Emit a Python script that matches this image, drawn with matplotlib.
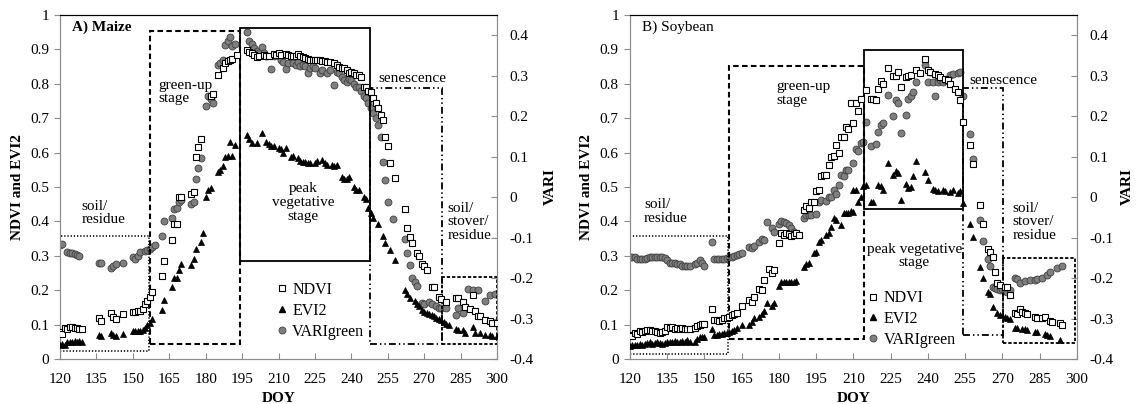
import matplotlib
matplotlib.use('Agg')
import matplotlib.pyplot as plt
from matplotlib.patches import Rectangle
from matplotlib.lines import Line2D

plt.rcParams['font.family'] = ['Liberation Serif', 'DejaVu Serif']
plt.rcParams['font.size'] = 11
plt.rcParams['lines.scale_dashes'] = False

# ---------------- Maize (panel A) ----------------
maize_ndvi_doy = [120, 121, 122, 123, 124, 125, 126, 127, 128, 129, 136, 137, 141, 142, 143, 146, 150, 151,
                  152, 153, 154, 155, 156, 157, 158, 162, 163, 166, 167, 168, 169, 170, 174, 175, 176, 177,
                  178, 182, 183, 185, 187, 188, 189, 190, 191, 193, 197, 198, 199, 200, 201, 202, 204, 205,
                  206, 208, 209, 210, 211, 213, 214, 215, 216, 217, 218, 219, 220, 221, 222, 223, 224, 225,
                  226, 227, 228, 229, 230, 231, 233, 234, 235, 236, 237, 238, 239, 240, 241, 242, 243, 244,
                  245, 246, 247, 248, 249, 250, 251, 252, 253, 254, 255, 256, 258, 262, 263, 264, 265, 267,
                  268, 269, 270, 271, 273, 274, 276, 277, 279, 283, 284, 286, 287, 289, 290, 291, 292, 293,
                  295, 297, 298, 300]
maize_ndvi = [0.078, 0.072, 0.09, 0.088, 0.094, 0.092, 0.09, 0.09, 0.088, 0.087, 0.12, 0.11, 0.135, 0.122,
              0.115, 0.13, 0.136, 0.138, 0.14, 0.14, 0.145, 0.16, 0.17, 0.18, 0.195, 0.24, 0.285, 0.346,
              0.392, 0.393, 0.47, 0.47, 0.48, 0.486, 0.587, 0.615, 0.64, 0.765, 0.77, 0.826, 0.845, 0.86,
              0.867, 0.87, 0.873, 0.884, 0.898, 0.893, 0.89, 0.885, 0.879, 0.882, 0.885, 0.882, 0.88, 0.886,
              0.884, 0.889, 0.885, 0.886, 0.884, 0.882, 0.88, 0.88, 0.886, 0.88, 0.878, 0.874, 0.872, 0.87,
              0.87, 0.868, 0.868, 0.868, 0.866, 0.865, 0.864, 0.864, 0.86, 0.856, 0.85, 0.846, 0.846, 0.84,
              0.83, 0.835, 0.83, 0.827, 0.825, 0.82, 0.79, 0.79, 0.78, 0.775, 0.76, 0.745, 0.73, 0.71, 0.695,
              0.646, 0.62, 0.569, 0.525, 0.435, 0.38, 0.355, 0.336, 0.309, 0.3, 0.276, 0.27, 0.26, 0.21,
              0.21, 0.18, 0.175, 0.167, 0.178, 0.177, 0.167, 0.15, 0.145, 0.186, 0.14, 0.125, 0.125, 0.113,
              0.11, 0.105, 0.105]

maize_evi2_doy = [120, 121, 122, 123, 124, 125, 126, 127, 128, 129, 136, 137, 141, 142, 143, 146, 150, 151,
                  152, 153, 154, 155, 156, 157, 158, 162, 163, 166, 167, 168, 169, 170, 174, 175, 176, 178,
                  179, 180, 181, 182, 185, 186, 187, 188, 189, 190, 191, 192, 197, 198, 199, 201, 203, 205,
                  206, 207, 208, 210, 211, 212, 213, 215, 216, 218, 219, 220, 221, 222, 223, 225, 226, 228,
                  229, 230, 232, 233, 234, 236, 237, 238, 239, 241, 242, 243, 245, 246, 247, 248, 249, 251,
                  253, 254, 256, 258, 262, 263, 264, 266, 267, 268, 269, 270, 271, 272, 273, 274, 275, 276,
                  277, 278, 279, 280, 283, 284, 286, 287, 290, 291, 293, 295, 297, 298, 300]
maize_evi2 = [0.04, 0.045, 0.04, 0.048, 0.05, 0.05, 0.052, 0.05, 0.052, 0.05, 0.07, 0.068, 0.075, 0.07,
              0.068, 0.072, 0.08, 0.08, 0.08, 0.08, 0.085, 0.09, 0.1, 0.105, 0.115, 0.142, 0.172, 0.208,
              0.234, 0.234, 0.26, 0.275, 0.273, 0.29, 0.319, 0.341, 0.365, 0.472, 0.49, 0.496, 0.545, 0.55,
              0.56, 0.588, 0.59, 0.632, 0.59, 0.622, 0.651, 0.64, 0.628, 0.628, 0.656, 0.63, 0.625, 0.62,
              0.62, 0.612, 0.61, 0.6, 0.612, 0.588, 0.59, 0.585, 0.575, 0.574, 0.572, 0.57, 0.57, 0.57,
              0.575, 0.578, 0.57, 0.565, 0.564, 0.56, 0.563, 0.53, 0.523, 0.523, 0.53, 0.5, 0.49, 0.49,
              0.472, 0.465, 0.438, 0.425, 0.41, 0.392, 0.357, 0.337, 0.318, 0.288, 0.202, 0.19, 0.176,
              0.168, 0.16, 0.155, 0.142, 0.138, 0.135, 0.13, 0.128, 0.125, 0.12, 0.115, 0.112, 0.108, 0.102,
              0.1, 0.086, 0.085, 0.083, 0.077, 0.092, 0.077, 0.075, 0.07, 0.07, 0.068, 0.067]

maize_vari_doy = [120, 121, 123, 124, 125, 126, 127, 128, 136, 137, 141, 142, 143, 146, 150, 151, 152, 153,
                  155, 156, 157, 158, 159, 162, 163, 166, 167, 168, 169, 170, 174, 175, 176, 177, 178, 180,
                  181, 182, 183, 185, 186, 187, 188, 189, 190, 191, 192, 197, 198, 199, 200, 201, 202, 203,
                  204, 205, 207, 208, 210, 211, 212, 213, 214, 216, 217, 218, 219, 220, 221, 222, 223, 224,
                  225, 227, 228, 230, 231, 233, 234, 235, 236, 237, 238, 239, 240, 241, 242, 243, 244, 245,
                  246, 247, 248, 249, 250, 251, 252, 253, 254, 255, 257, 262, 263, 264, 265, 266, 267, 269,
                  270, 272, 273, 275, 276, 277, 279, 283, 284, 286, 288, 290, 292, 295, 297, 299]
maize_vari = [-0.119, -0.115, -0.135, -0.137, -0.139, -0.141, -0.142, -0.145, -0.162, -0.162, -0.176, -0.169,
              -0.165, -0.164, -0.147, -0.154, -0.145, -0.135, -0.132, -0.130, -0.128, -0.124, -0.119, -0.097,
              -0.06, -0.052, -0.029, -0.026, -0.012, -0.007, -0.018, -0.011, 0.044, 0.071, 0.096, 0.225,
              0.249, 0.242, 0.233, 0.327, 0.331, 0.34, 0.376, 0.386, 0.396, 0.374, 0.378, 0.409, 0.385,
              0.379, 0.368, 0.361, 0.357, 0.372, 0.357, 0.348, 0.316, 0.348, 0.348, 0.34, 0.335, 0.317,
              0.331, 0.331, 0.327, 0.335, 0.323, 0.327, 0.323, 0.306, 0.318, 0.323, 0.318, 0.307, 0.314,
              0.306, 0.314, 0.277, 0.31, 0.306, 0.297, 0.289, 0.285, 0.293, 0.289, 0.28, 0.272, 0.272,
              0.263, 0.25, 0.244, 0.233, 0.221, 0.207, 0.195, 0.178, 0.149, 0.087, 0.042, -0.012, -0.055,
              -0.104, -0.139, -0.168, -0.2, -0.209, -0.22, -0.262, -0.264, -0.258, -0.264, -0.268, -0.273,
              -0.273, -0.275, -0.291, -0.275, -0.286, -0.228, -0.23, -0.23, -0.256, -0.242, -0.239]

# stage windows: (DOY start, DOY end, low, high) on the NDVI/EVI2 scale
maize_stages = [(120, 156.5, 0.024, 0.358),
                (157.1, 194.1, 0.045, 0.954),
                (194.1, 247.7, 0.285, 0.961),
                (247.7, 277.2, 0.044, 0.787),
                (277.2, 300, 0.044, 0.239)]

# ---------------- Soybean (panel B) ----------------
soy_ndvi_doy = [120, 121, 122, 123, 124, 125, 126, 127, 128, 129, 130, 131, 132, 133, 134, 135, 136, 137,
                138, 139, 140, 141, 142, 143, 144, 146, 147, 148, 149, 150, 153, 154, 155, 156, 157, 158,
                159, 160, 161, 162, 163, 165, 168, 169, 170, 172, 173, 174, 176, 177, 178, 180, 181, 182,
                183, 184, 185, 186, 187, 188, 190, 191, 192, 193, 194, 195, 196, 197, 198, 199, 200, 201,
                202, 203, 204, 205, 206, 207, 208, 209, 210, 211, 212, 213, 215, 217, 218, 219, 220, 221,
                222, 224, 226, 227, 228, 229, 231, 232, 233, 235, 237, 239, 240, 241, 243, 244, 245, 247,
                248, 249, 251, 252, 253, 254, 257, 258, 261, 262, 264, 265, 266, 267, 268, 269, 271, 272,
                273, 275, 276, 277, 278, 279, 280, 283, 284, 286, 287, 289, 290, 293, 294]
soy_ndvi = [0.07, 0.068, 0.075, 0.074, 0.08, 0.078, 0.082, 0.085, 0.084, 0.08, 0.082, 0.078, 0.075, 0.078,
            0.082, 0.094, 0.09, 0.092, 0.088, 0.09, 0.088, 0.09, 0.088, 0.086, 0.088, 0.091, 0.095, 0.1,
            0.103, 0.102, 0.144, 0.113, 0.112, 0.11, 0.112, 0.118, 0.12, 0.122, 0.128, 0.13, 0.135, 0.154,
            0.172, 0.165, 0.18, 0.203, 0.202, 0.231, 0.263, 0.251, 0.26, 0.338, 0.365, 0.36, 0.365, 0.363,
            0.358, 0.36, 0.365, 0.36, 0.433, 0.445, 0.438, 0.455, 0.457, 0.487, 0.49, 0.532, 0.535, 0.535,
            0.564, 0.588, 0.59, 0.622, 0.6, 0.644, 0.646, 0.675, 0.67, 0.743, 0.685, 0.743, 0.722, 0.755,
            0.783, 0.755, 0.755, 0.753, 0.786, 0.807, 0.8, 0.845, 0.823, 0.824, 0.834, 0.79, 0.82, 0.823,
            0.825, 0.84, 0.83, 0.871, 0.84, 0.835, 0.829, 0.825, 0.82, 0.815, 0.81, 0.8, 0.786, 0.775, 0.753,
            0.69, 0.622, 0.567, 0.448, 0.392, 0.319, 0.31, 0.296, 0.254, 0.22, 0.215, 0.21, 0.208, 0.186,
            0.133, 0.13, 0.145, 0.138, 0.133, 0.13, 0.123, 0.12, 0.12, 0.123, 0.11, 0.108, 0.104, 0.099]

soy_evi2_doy = [120, 121, 122, 123, 124, 125, 126, 127, 128, 129, 130, 131, 132, 133, 134, 135, 136, 137,
                138, 139, 140, 141, 142, 143, 144, 146, 147, 148, 149, 150, 153, 154, 155, 156, 157, 158,
                159, 160, 161, 162, 163, 165, 168, 169, 170, 172, 173, 174, 175, 177, 178, 180, 181, 182,
                183, 184, 185, 186, 187, 190, 191, 192, 194, 195, 196, 197, 199, 200, 201, 202, 203, 205,
                206, 207, 208, 209, 210, 210, 211, 212, 213, 214, 215, 217, 218, 220, 221, 222, 224, 226,
                227, 228, 229, 231, 232, 233, 234, 235, 239, 240, 242, 243, 244, 246, 247, 249, 250, 252,
                253, 254, 257, 258, 261, 262, 264, 265, 266, 268, 269, 271, 272, 273, 275, 276, 278, 279,
                280, 283, 284, 287, 288, 289, 293]
soy_evi2 = [0.038, 0.04, 0.042, 0.04, 0.044, 0.042, 0.045, 0.046, 0.048, 0.045, 0.047, 0.048, 0.046, 0.044,
            0.046, 0.048, 0.05, 0.048, 0.052, 0.05, 0.05, 0.052, 0.05, 0.054, 0.05, 0.05, 0.058, 0.063,
            0.065, 0.065, 0.086, 0.07, 0.07, 0.072, 0.072, 0.075, 0.075, 0.078, 0.08, 0.084, 0.09, 0.099,
            0.1, 0.107, 0.118, 0.123, 0.13, 0.14, 0.162, 0.155, 0.162, 0.212, 0.225, 0.223, 0.225, 0.225,
            0.224, 0.225, 0.226, 0.268, 0.275, 0.28, 0.309, 0.31, 0.341, 0.345, 0.36, 0.365, 0.385, 0.409,
            0.405, 0.39, 0.423, 0.425, 0.425, 0.431, 0.428, 0.491, 0.49, 0.457, 0.472, 0.503, 0.506, 0.455,
            0.455, 0.505, 0.503, 0.49, 0.569, 0.536, 0.546, 0.54, 0.462, 0.51, 0.497, 0.5, 0.531, 0.576,
            0.545, 0.52, 0.493, 0.49, 0.488, 0.49, 0.487, 0.485, 0.49, 0.483, 0.487, 0.453, 0.392, 0.356,
            0.268, 0.234, 0.196, 0.19, 0.152, 0.133, 0.128, 0.123, 0.12, 0.115, 0.089, 0.09, 0.088, 0.086,
            0.085, 0.079, 0.078, 0.074, 0.07, 0.066, 0.055]

soy_vari_doy = [120, 121, 122, 123, 124, 125, 126, 127, 128, 129, 130, 131, 132, 133, 134, 135, 136, 137,
                138, 139, 140, 141, 142, 143, 144, 146, 147, 148, 149, 150, 153, 154, 155, 156, 157, 158,
                159, 160, 161, 162, 163, 164, 165, 168, 169, 170, 172, 173, 174, 175, 177, 178, 180, 181,
                182, 183, 184, 185, 186, 190, 191, 192, 193, 195, 196, 197, 199, 200, 201, 202, 203, 204,
                205, 206, 207, 208, 210, 211, 212, 213, 214, 215, 217, 219, 220, 221, 222, 224, 226, 227,
                228, 229, 231, 232, 233, 234, 235, 239, 240, 241, 242, 243, 244, 245, 246, 247, 249, 250,
                252, 253, 254, 257, 258, 261, 262, 264, 265, 266, 267, 268, 269, 270, 271, 272, 273, 275,
                276, 277, 279, 281, 283, 284, 286, 288, 289, 292, 294]
soy_vari = [-0.148, -0.149, -0.147, -0.152, -0.153, -0.154, -0.154, -0.151, -0.149, -0.148, -0.148, -0.148,
            -0.148, -0.149, -0.150, -0.155, -0.164, -0.162, -0.164, -0.166, -0.166, -0.171, -0.169, -0.169,
            -0.169, -0.166, -0.162, -0.155, -0.164, -0.169, -0.110, -0.152, -0.154, -0.154, -0.154, -0.154,
            -0.151, -0.148, -0.148, -0.145, -0.143, -0.141, -0.138, -0.123, -0.126, -0.120, -0.110, -0.104,
            -0.107, -0.061, -0.077, -0.086, -0.067, -0.06, -0.062, -0.064, -0.069, -0.077, -0.086, -0.052,
            -0.043, -0.045, -0.043, -0.041, -0.013, -0.007, -0.009, 0.0, 0.0, 0.017, 0.008, 0.03, 0.055,
            0.051, 0.068, 0.068, 0.084, 0.12, 0.113, 0.133, 0.136, 0.185, 0.126, 0.13, 0.161, 0.178, 0.182,
            0.252, 0.2, 0.24, 0.232, 0.159, 0.203, 0.242, 0.25, 0.26, 0.285, 0.327, 0.285, 0.31, 0.285,
            0.25, 0.285, 0.289, 0.285, 0.289, 0.302, 0.304, 0.306, 0.31, 0.25, 0.155, 0.093, -0.057, -0.108,
            -0.152, -0.171, -0.223, -0.224, -0.227, -0.23, -0.226, -0.233, -0.234, -0.23, -0.201, -0.202,
            -0.211, -0.207, -0.205, -0.205, -0.203, -0.199, -0.193, -0.184, -0.176, -0.171]

soy_stages = [(120, 159.5, 0.0145, 0.358),
              (159.8, 214.4, 0.057, 0.853),
              (214.4, 254.3, 0.435, 0.898),
              (254.3, 270.3, 0.07, 0.787),
              (270.3, 299.4, 0.047, 0.294)]

x_ticks = list(range(120, 301, 15))
left_ticks = [0, 0.1, 0.2, 0.3, 0.4, 0.5, 0.6, 0.7, 0.8, 0.9, 1]
right_ticks = [-0.4, -0.3, -0.2, -0.1, 0, 0.1, 0.2, 0.3, 0.4]

# line style of each stage box: soil, green-up, peak, senescence, soil/stover
box_styles = [
    dict(linestyle=(0, (0.9, 1.4)), linewidth=1.2),
    dict(linestyle=(0, (4.0, 2.4)), linewidth=1.5),
    dict(linestyle='-', linewidth=1.3),
    dict(linestyle=(0, (5.0, 2.2, 1.0, 2.2, 1.0, 2.2)), linewidth=1.3),
    dict(linestyle=(0, (2.4, 1.4)), linewidth=1.3),
]

GRAY = '#8c8c8c'


def tick_label(v):
    if v == 0:
        return '0'
    if v == 1:
        return '1'
    return f'{v:.1f}'


def draw_panel(ax, title, bold, ndvi_doy, ndvi, evi2_doy, evi2, vari_doy, vari, stages, notes,
               legend_anchor, vari_x):
    ax2 = ax.twinx()
    ax.set_zorder(ax2.get_zorder() + 1)
    ax.patch.set_visible(False)

    for (x0, x1, y0, y1), st in zip(stages, box_styles):
        ax.add_patch(Rectangle((x0, y0), x1 - x0, y1 - y0, fill=False, edgecolor='black', zorder=1, **st))

    ax.plot(ndvi_doy, ndvi, ls='none', marker='s', ms=4.2, mfc='white', mec='black', mew=0.8, zorder=3)
    ax.plot(evi2_doy, evi2, ls='none', marker='^', ms=4.8, mfc='black', mec='black', mew=0.5, zorder=3)
    ax2.plot(vari_doy, vari, ls='none', marker='o', ms=5.0, mfc='#7f7f7f', mec='#404040', mew=0.6, zorder=3)

    ax.set_xlim(120, 300)
    ax.set_ylim(0, 1)
    ax2.set_ylim(-0.4, 0.45)
    ax.set_xticks(x_ticks)
    ax.set_yticks(left_ticks)
    ax.set_yticklabels([tick_label(v) for v in left_ticks])
    ax2.set_yticks(right_ticks)
    ax2.set_yticklabels([tick_label(v) for v in right_ticks])

    for a in (ax, ax2):
        for side in ('left', 'right', 'bottom'):
            a.spines[side].set_color(GRAY)
        a.spines['top'].set_color('black')
    ax.tick_params(axis='x', direction='in', length=4, color=GRAY, pad=10, labelsize=11)
    ax.tick_params(axis='y', direction='out', length=4, color=GRAY, pad=4, labelsize=11)
    ax2.tick_params(axis='y', direction='in', length=4, color=GRAY, pad=9, labelsize=11)

    ax.set_xlabel('DOY', fontweight='bold')
    ax.xaxis.set_label_coords(0.5, -0.095)
    ax.set_ylabel('NDVI and EVI2', fontweight='bold')
    ax.yaxis.set_label_coords(-0.082, 0.5)
    ax2.set_ylabel('VARI', fontweight='bold')
    ax2.yaxis.set_label_coords(vari_x, 0.5)

    ax.text(0.028, 0.963, title, transform=ax.transAxes, ha='left', va='center',
            fontweight='bold' if bold else 'normal')
    for x, y, s, ha, ls in notes:
        ax.text(x, y, s, ha=ha, va='center', multialignment=ha if ha != 'center' else 'center',
                linespacing=ls, zorder=4)

    handles = [
        Line2D([], [], ls='none', marker='s', ms=4.2, mfc='white', mec='black', mew=0.8),
        Line2D([], [], ls='none', marker='^', ms=4.8, mfc='black', mec='black'),
        Line2D([], [], ls='none', marker='o', ms=5.0, mfc='#7f7f7f', mec='#404040', mew=0.6),
    ]
    ax.legend(handles, ['NDVI', 'EVI2', 'VARIgreen'], loc='upper left', bbox_to_anchor=legend_anchor,
              frameon=False, borderpad=0, borderaxespad=0, handlelength=0.8, handletextpad=0.25,
              labelspacing=0.3, fontsize=11.5)


fig = plt.figure(figsize=(11.39, 4.04), dpi=100)
ax_a = fig.add_axes([0.0527, 0.1114, 0.3837, 0.8515])
ax_b = fig.add_axes([0.5531, 0.1114, 0.3924, 0.8515])

maize_notes = [(160.4, 0.776, 'green-up\nstage', 'left', 1.05),
               (220.1, 0.456, 'peak\nvegetative\nstage', 'center', 1.1),
               (265.1, 0.814, 'senescence', 'center', 1.0),
               (128.9, 0.424, 'soil/\nresidue', 'left', 1.05),
               (279.5, 0.399, 'soil/\nstover/\nresidue', 'left', 1.05)]
soy_notes = [(178.9, 0.772, 'green-up\nstage', 'left', 1.05),
             (234.5, 0.299, 'peak vegetative\nstage', 'center', 1.05),
             (270.3, 0.811, 'senescence', 'center', 1.0),
             (125.6, 0.429, 'soil/\nresidue', 'left', 1.05),
             (274.0, 0.399, 'soil/\nstover/\nresidue', 'left', 1.05)]

draw_panel(ax_a, 'A) Maize', True, maize_ndvi_doy, maize_ndvi, maize_evi2_doy, maize_evi2,
           maize_vari_doy, maize_vari, maize_stages, maize_notes, (0.493, 0.224), 1.106)
draw_panel(ax_b, 'B) Soybean', False, soy_ndvi_doy, soy_ndvi, soy_evi2_doy, soy_evi2,
           soy_vari_doy, soy_vari, soy_stages, soy_notes, (0.53, 0.2), 1.0975)

fig.savefig('out.png', dpi=100)
